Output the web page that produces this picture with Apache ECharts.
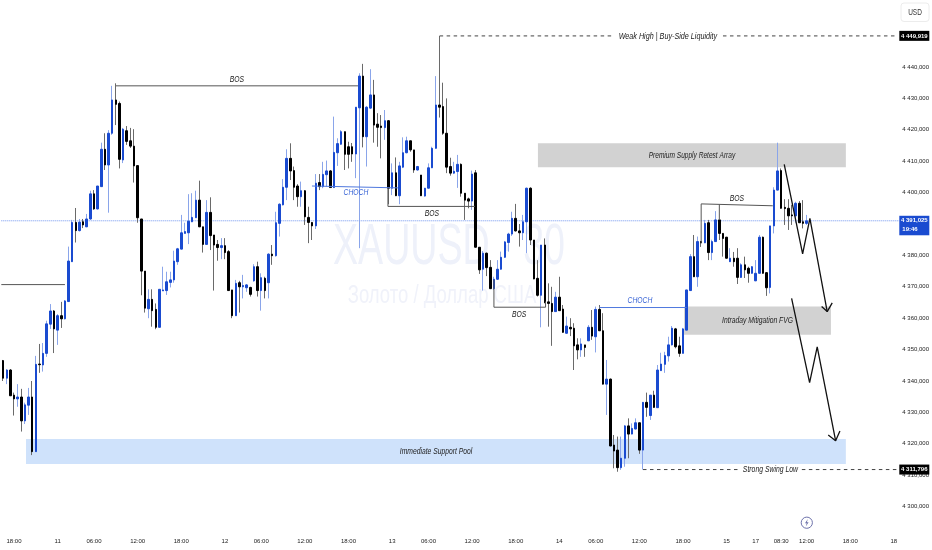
<!DOCTYPE html>
<html>
<head>
<meta charset="utf-8">
<style>html,body{margin:0;padding:0;background:#fff}#chart{width:932px;height:550px}</style>
<script src="https://cdn.jsdelivr.net/npm/echarts@6/dist/echarts.min.js"></script>
</head>
<body>
<div id="chart"></div>
<script>
const SLOT_COUNT = 247;
const tickIndexes = [3,15,25,37,49,61,71,83,95,107,117,129,141,153,163,175,187,199,207,214,221,233,245];
const tickLabels = ['18:00','11','06:00','12:00','18:00','12','06:00','12:00','18:00','13','06:00','12:00','18:00','14','06:00','12:00','18:00','15','17','08:30','12:00','18:00','18'];
const directions = 'DUDDUDUUDU'+'DUUUDUDUUU'+'DUDUUDUUDU'+'UDDUDDDDDD'+'UDDUUUUUUU'+'UUUUDDUDDD'+'UDDDUDUUDU'+'DUDUDUUUUD'+'DDUDDDUDUU'+'DUUUDDDUUD'+'UUDDDUDUDU'+'UUDDUDUUUU'+'DDDDUUDDDU'+'DDUDDUUUUU'+'UDDUUDDDUD'+'DDUDDUDDDU'+'DUDUDDUDDD'+'UUDUUDUDUD'+'UUUUUDDUUU'+'DUDUDUUDDD'+'UDDUDDUUUD'+'DUUUDDDDUD'+'DU';
const bodyHigh = [
4346.5,4343.5,4343.5,4335.5,4334.9,4334.9,4332.4,4334.9,4334.9,4345.3,
4345.4,4348.8,4358.2,4362.3,4362.3,4360.8,4360.8,4365.5,4378.2,4390.5,
4390.5,4390.6,4390.7,4391.6,4399.6,4399.6,4402.1,4413.8,4413.8,4418.9,
4429.5,4429.5,4428.4,4420.2,4419.7,4416.5,4414.8,4408.6,4391.6,4375.0,
4366.0,4366.0,4362.8,4369.2,4369.0,4371.6,4372.2,4378.2,4382.1,4387.2,
4387.6,4390.9,4392.1,4397.6,4397.6,4389.1,4393.7,4393.7,4386.5,4383.5,
4383.1,4383.1,4381.2,4369.0,4371.1,4371.3,4370.4,4370.6,4369.8,4376.4,
4376.4,4372.9,4372.7,4380.4,4380.4,4390.4,4396.3,4401.7,4410.9,4410.9,
4407.0,4402.1,4400.6,4400.6,4392.1,4390.5,4403.0,4403.2,4405.8,4406.9,
4406.9,4412.8,4415.6,4419.4,4419.4,4414.6,4414.6,4427.2,4437.1,4437.1,
4427.2,4431.1,4431.1,4421.8,4421.2,4422.9,4422.9,4406.3,4406.3,4408.5,
4412.7,4416.5,4416.5,4413.6,4408.3,4405.6,4401.4,4407.9,4414.1,4427.9,
4427.9,4427.4,4418.9,4408.3,4406.8,4409.0,4409.0,4399.8,4398.0,4405.9,
4406.3,4382.6,4380.7,4380.7,4376.2,4372.4,4375.6,4379.4,4384.3,4386.8,
4391.8,4391.8,4387.8,4390.7,4401.4,4401.4,4384.9,4372.7,4383.3,4383.3,
4365.2,4364.7,4366.7,4366.7,4362.9,4357.5,4357.1,4356.8,4351.5,4351.8,
4351.5,4357.1,4357.1,4362.8,4362.8,4356.0,4340.6,4340.6,4319.6,4318.0,
4315.4,4325.7,4325.7,4324.9,4326.7,4326.7,4333.2,4333.2,4335.5,4335.5,
4343.5,4345.4,4348.1,4351.5,4356.8,4356.6,4351.2,4356.6,4369.0,4379.6,
4379.6,4384.4,4384.4,4390.2,4390.4,4384.4,4391.3,4391.3,4387.0,4385.8,
4379.1,4379.1,4379.1,4377.0,4377.0,4375.9,4376.4,4374.3,4385.8,4385.8,
4374.5,4389.4,4400.8,4406.9,4407.0,4395.3,4395.0,4392.9,4396.6,4396.6,
4390.7,4391.0];
const bodyLow = [
4340.9,4340.9,4335.3,4334.3,4334.3,4327.3,4327.3,4332.3,4317.5,4317.5,
4345.2,4345.1,4348.8,4358.1,4356.6,4356.2,4359.8,4359.8,4365.3,4378.0,
4387.9,4387.9,4389.7,4389.1,4391.6,4394.8,4394.8,4401.9,4408.8,4408.8,
4418.9,4428.1,4410.6,4410.4,4416.3,4414.8,4408.5,4392.0,4375.0,4363.2,
4363.0,4362.4,4357.1,4357.1,4368.7,4368.8,4371.4,4372.2,4378.0,4382.0,
4387.0,4387.2,4390.7,4392.0,4389.1,4383.5,4383.5,4386.3,4383.3,4382.5,
4382.5,4380.9,4368.8,4360.8,4360.8,4370.0,4370.0,4369.7,4367.6,4371.9,
4368.8,4368.8,4368.8,4371.3,4379.9,4379.9,4390.2,4396.1,4401.7,4406.9,
4401.7,4398.7,4398.7,4392.3,4390.5,4389.4,4389.4,4401.9,4401.9,4405.7,
4401.6,4401.6,4412.7,4415.4,4412.2,4412.2,4412.3,4412.3,4427.0,4417.8,
4417.8,4426.9,4421.5,4420.8,4420.7,4420.7,4401.4,4401.4,4399.0,4399.0,
4408.1,4412.7,4413.6,4407.2,4407.2,4399.0,4398.9,4401.4,4407.9,4414.1,
4427.2,4418.9,4408.1,4406.2,4406.2,4406.7,4399.8,4397.6,4397.3,4397.3,
4382.6,4375.4,4375.6,4376.1,4369.4,4369.4,4372.4,4375.6,4379.4,4384.1,
4386.8,4387.8,4387.2,4387.2,4390.7,4384.9,4372.5,4367.3,4367.3,4364.9,
4364.7,4362.1,4362.1,4362.4,4355.5,4355.2,4356.6,4351.2,4349.9,4349.9,
4350.7,4352.8,4354.3,4354.1,4356.0,4339.0,4339.0,4319.3,4317.7,4312.4,
4312.4,4315.4,4323.1,4323.1,4324.7,4318.0,4318.0,4331.6,4329.0,4331.6,
4331.5,4343.3,4345.3,4348.0,4351.5,4350.9,4348.8,4348.8,4356.2,4368.8,
4373.2,4373.2,4384.0,4384.0,4380.9,4380.9,4384.4,4387.0,4385.4,4379.1,
4378.0,4378.0,4373.0,4373.0,4375.4,4374.3,4374.3,4371.9,4374.3,4374.3,
4369.7,4369.8,4389.4,4400.8,4395.0,4394.9,4392.6,4392.6,4392.6,4390.4,
4390.2,4390.2];
const wickHigh = [
4346.7,4343.8,4343.8,4336.3,4339.0,4337.5,4333.1,4337.8,4340.0,4348.0,
4351.8,4352.1,4359.2,4364.5,4362.6,4361.3,4365.2,4365.8,4382.8,4391.3,
4395.1,4391.6,4391.6,4393.2,4400.6,4400.8,4402.1,4415.9,4418.9,4419.9,
4434.0,4434.8,4429.0,4420.6,4421.2,4420.6,4420.2,4408.6,4391.6,4375.0,
4369.2,4369.2,4364.7,4369.2,4376.4,4374.8,4374.8,4381.5,4382.4,4392.9,
4390.4,4399.5,4399.8,4400.6,4403.8,4389.1,4397.6,4398.5,4386.5,4384.9,
4385.5,4385.5,4381.7,4369.0,4372.2,4371.9,4373.8,4370.9,4370.0,4377.2,
4378.0,4374.3,4373.2,4380.7,4383.3,4393.9,4396.6,4404.3,4413.8,4415.7,
4408.3,4402.7,4403.5,4400.8,4395.5,4390.5,4405.9,4405.9,4409.8,4410.2,
4407.2,4424.2,4417.3,4419.9,4419.4,4416.2,4415.8,4427.2,4438.0,4441.0,
4427.6,4439.3,4435.9,4425.3,4424.7,4426.3,4423.1,4409.3,4411.2,4409.8,
4417.6,4417.8,4416.5,4413.6,4408.5,4405.6,4401.5,4409.3,4414.6,4437.1,
4449.9,4435.0,4430.0,4411.1,4409.8,4412.0,4409.3,4399.8,4398.4,4407.0,
4407.2,4382.6,4381.4,4380.9,4378.5,4373.2,4378.5,4381.2,4384.6,4387.2,
4393.9,4396.4,4390.0,4392.9,4401.6,4401.7,4384.9,4378.5,4383.3,4385.4,
4371.1,4370.0,4368.4,4373.2,4364.2,4360.5,4360.0,4358.4,4353.6,4353.6,
4351.5,4357.8,4362.6,4363.7,4364.2,4361.6,4346.7,4340.8,4322.8,4322.3,
4322.3,4326.0,4328.1,4326.5,4328.1,4326.7,4333.3,4336.3,4335.5,4336.9,
4345.1,4349.0,4349.3,4354.1,4357.5,4356.9,4354.1,4356.9,4369.0,4380.4,
4386.5,4386.0,4384.6,4391.3,4391.3,4385.0,4394.1,4391.3,4387.0,4385.9,
4382.3,4381.1,4382.3,4377.5,4379.6,4376.4,4376.6,4378.5,4386.5,4386.0,
4374.7,4389.4,4401.7,4415.9,4407.7,4397.9,4397.9,4396.1,4397.1,4397.3,
4397.6,4392.9];
const wickLow = [
4340.0,4339.0,4335.2,4329.0,4331.8,4323.9,4326.3,4329.2,4316.4,4317.4,
4342.6,4343.0,4347.7,4356.6,4348.9,4351.5,4356.9,4359.6,4365.2,4377.9,
4384.1,4387.6,4388.7,4389.0,4391.3,4394.5,4394.6,4401.8,4407.2,4393.6,
4418.4,4421.5,4407.7,4409.4,4415.2,4414.2,4403.2,4390.4,4367.3,4361.8,
4360.0,4357.3,4356.5,4357.1,4368.7,4367.4,4369.8,4371.3,4377.0,4381.9,
4387.0,4383.6,4390.6,4391.9,4389.0,4380.9,4383.5,4381.7,4368.8,4378.3,
4378.8,4378.8,4368.7,4360.0,4360.7,4361.8,4366.3,4368.4,4366.9,4371.6,
4366.9,4362.4,4366.3,4366.3,4377.0,4379.6,4386.0,4395.9,4397.6,4404.0,
4397.6,4395.5,4395.5,4389.7,4383.9,4384.9,4388.4,4400.8,4401.4,4401.9,
4401.5,4401.5,4408.5,4415.2,4407.2,4407.7,4409.8,4404.6,4382.3,4414.4,
4408.3,4426.6,4415.9,4414.6,4410.9,4416.8,4396.3,4399.2,4398.9,4396.3,
4407.8,4412.5,4413.0,4406.3,4407.0,4398.9,4398.7,4401.3,4407.8,4414.0,
4423.9,4418.4,4406.2,4405.4,4405.9,4401.5,4398.7,4391.3,4395.0,4394.5,
4382.5,4374.1,4368.8,4373.4,4369.3,4369.0,4372.2,4375.4,4379.2,4381.2,
4386.2,4387.6,4382.8,4384.9,4380.7,4383.3,4372.4,4366.9,4357.1,4364.8,
4357.3,4351.2,4362.0,4362.3,4355.4,4355.0,4354.3,4343.5,4346.9,4347.7,
4347.7,4352.7,4353.1,4349.1,4355.9,4338.9,4329.2,4319.2,4312.2,4311.1,
4311.7,4312.7,4315.4,4323.0,4324.6,4316.8,4311.8,4328.6,4327.6,4331.5,
4331.4,4343.2,4342.6,4346.2,4351.3,4350.4,4347.7,4348.8,4356.1,4368.7,
4373.1,4370.0,4382.7,4383.9,4378.5,4378.5,4384.3,4384.9,4379.6,4379.0,
4377.9,4376.4,4370.9,4372.8,4372.8,4371.3,4374.2,4371.8,4374.2,4374.2,
4367.1,4367.9,4387.0,4400.7,4394.9,4389.7,4388.1,4389.7,4390.4,4390.3,
4388.6,4389.7];

const lastPrice = 4391.025;
const weakHigh = 4449.919;
const swingLow = 4311.796;

// zones: [fromBar, topPrice, toBar, bottomPrice]
const supportZone = [6.29, 4321.5, 231.8, 4313.6];
const supplyZone = [147.1, 4415.7, 231.8, 4408.1];
const fvgZone = [187.3, 4363.7, 227.7, 4354.7];

// drawn levels: [bar, price] points
const leftLevel = [[-0.5,4370.7],[17.0,4370.7]];
const bos1 = [[31.05,4434.0],[97.6,4434.0]];
const choch1 = [[84.95,4402.1],[108.6,4401.5]];
const bos2 = [[105.85,4401.5],[105.85,4395.6],[129.8,4395.6]];
const bos3 = [[135.0,4372.2],[135.0,4363.5],[149.2,4363.5],[149.2,4365.3]];
const choch2 = [[164.0,4363.4],[188.0,4363.4]];
const bos4 = [[192.0,4383.9],[192.0,4396.4],[211.7,4395.8]];
const bos4Tick = [[197.0,4396.2],[197.0,4391.3]];
const weakHighLeft = [[120.07,4449.9],[168.0,4449.9]];
const weakHighRight = [[198.0,4449.9],[245.8,4449.9]];
const swingLowLeft = [[176.0,4311.8],[202.1,4311.8]];
const swingLowRight = [[219.7,4311.8],[245.8,4311.8]];
const priceLine = [[-0.5,lastPrice],[246.5,lastPrice]];
const arrowOne = [[214.85,4409.0],[219.91,4380.45],[221.91,4391.8],[226.67,4362.1]];
const arrowOneHead = [[225.13,4363.7],[226.67,4362.1],[228.05,4364.9]];
const arrowTwo = [[216.88,4366.3],[221.83,4339.5],[223.92,4350.9],[228.98,4321.0]];
const arrowTwoHead = [[226.95,4322.8],[228.98,4321.0],[230.17,4324.1]];

const noteTexts = ['Weak High | Buy-Side Liquidity','BOS','CHOCH','BOS','BOS','CHOCH','BOS','Premium Supply Retest Array','Intraday Mitigation FVG','Immediate Support Pool','Strong Swing Low'];
const noteBars = [182.86,64.3,97.05,117.95,141.9,175.16,201.8,189.46,207.5,119.06,211.05];
const notePrices = [4449.6,4435.9,4399.9,4393.5,4361.3,4365.5,4398.0,4411.7,4359.2,4317.4,4311.7];
const noteScale = [0.8,0.75,0.75,0.75,0.75,0.75,0.75,0.73,0.75,0.75,0.76];
const noteColors = ['#222','#222','#3b66d6','#222','#222','#3b66d6','#222','#222','#222','#222','#222'];

const UP = '#1a4bd0', DOWN = '#000000';
const WICK_UP = '#8aa5ea', WICK_DOWN = '#6a6a6a';
const SANS = '"Liberation Sans",sans-serif';

const categories = Array.from({length: SLOT_COUNT}, (_, i) => {
  const k = tickIndexes.indexOf(i);
  return k >= 0 ? tickLabels[k] : '';
});
const isUp = i => directions[i] === 'U';
const wickData = bodyHigh.map((_, i) => isUp(i)
  ? [bodyLow[i], bodyHigh[i], wickLow[i], wickHigh[i]]
  : [bodyHigh[i], bodyLow[i], wickLow[i], wickHigh[i]]);
const bodyData = bodyHigh.map((_, i) => isUp(i)
  ? [bodyLow[i], bodyHigh[i], bodyLow[i], bodyHigh[i]]
  : [bodyHigh[i], bodyLow[i], bodyLow[i], bodyHigh[i]]);

const fmtPrice = v => {
  const s = v.toFixed(3).replace('.', ',');
  return s[0] + ' ' + s.slice(1);
};

function lineSeries(points, color, width, type, z) {
  return {
    type: 'line', xAxisIndex: 1, yAxisIndex: 0, data: points, symbol: 'none', silent: true,
    clip: false, z, lineStyle: {color, width, type: type || 'solid'}, animation: false
  };
}
const zoneColors = ['#cfe2fb', '#d2d2d2', '#d2d2d2'];
const priceTags = [
  {price: weakHigh, bg: '#000', lines: [fmtPrice(weakHigh)]},
  {price: swingLow, bg: '#000', lines: [fmtPrice(swingLow)]},
  {price: lastPrice, bg: '#1a4bd0', lines: [fmtPrice(lastPrice), '19:46']}
];

const option = {
  animation: false,
  backgroundColor: '#fff',
  grid: {left: 1.3, width: 898, top: 4.2, bottom: 12, containLabel: false, outerBoundsMode: 'none'},
  xAxis: [
    {type: 'category', data: categories, boundaryGap: true,
     axisLine: {show: false}, axisTick: {show: false}, splitLine: {show: false},
     axisLabel: {interval: 0, margin: 0, color: '#222', fontSize: 6, fontFamily: SANS, hideOverlap: false}},
    {type: 'value', min: -0.5, max: 246.5, show: false, splitLine: {show: false}}
  ],
  yAxis: [{
    type: 'value', position: 'right', min: 4290, max: 4460, interval: 10, scale: true,
    axisLine: {show: false}, axisTick: {show: false}, splitLine: {show: false},
    axisLabel: {margin: 3, color: '#222', fontSize: 6, fontFamily: SANS,
      formatter: v => (v <= 4290 || v >= 4450) ? '' : fmtPrice(v)}
  }],
  graphic: [
    {type: 'text', silent: true, z: 0, x: 449, y: 248, scaleX: 0.66,
     style: {text: 'XAUUSD · 30', fill: '#eef1fa', font: '57px "Liberation Sans"', align: 'center', verticalAlign: 'middle'}},
    {type: 'text', silent: true, z: 0, x: 442, y: 296, scaleX: 0.74,
     style: {text: 'Золото / Доллар США', fill: '#f0f2fa', font: '25px "Liberation Sans"', align: 'center', verticalAlign: 'middle'}},
    {type: 'rect', silent: true, z: 8, shape: {x: 901, y: 3, width: 28, height: 18.5, r: 3},
     style: {fill: '#fff', stroke: '#ececec', lineWidth: 1}},
    {type: 'text', silent: true, z: 9, x: 915, y: 12.5, scaleX: 0.72,
     style: {text: 'USD', fill: '#333', font: '9px "Liberation Sans"', align: 'center', verticalAlign: 'middle'}},
    {type: 'circle', silent: true, z: 8, shape: {cx: 806.8, cy: 522.7, r: 5.6},
     style: {fill: '#fff', stroke: '#6d72ab', lineWidth: 1}},
    {type: 'polygon', silent: true, z: 9, shape: {points: [[807.8,519],[805,523.2],[806.7,523.2],[805.8,526.4],[808.6,522.2],[806.9,522.2]]},
     style: {fill: '#6d72ab'}}
  ],
  series: [
    {type: 'custom', xAxisIndex: 1, yAxisIndex: 0, z: 1, silent: true,
     data: [supportZone, supplyZone, fvgZone],
     renderItem: (params, api) => {
       const a = api.coord([api.value(0), api.value(1)]);
       const b = api.coord([api.value(2), api.value(3)]);
       return {type: 'rect', shape: {x: a[0], y: a[1], width: b[0]-a[0], height: b[1]-a[1]},
               style: {fill: zoneColors[params.dataIndex]}};
     }},
    lineSeries(priceLine, '#6f93f0', 1, 'dotted', 1),
    {type: 'candlestick', xAxisIndex: 0, yAxisIndex: 0, z: 2, silent: true, barWidth: 1, data: wickData,
     itemStyle: {color: WICK_UP, color0: WICK_DOWN, borderColor: WICK_UP, borderColor0: WICK_DOWN, borderWidth: 1}},
    {type: 'candlestick', xAxisIndex: 0, yAxisIndex: 0, z: 3, silent: true, barWidth: 2, data: bodyData,
     itemStyle: {color: UP, color0: DOWN, borderColor: UP, borderColor0: DOWN, borderWidth: 1}},
    lineSeries(leftLevel, '#555', 1, 'solid', 4),
    lineSeries(bos1, '#555', 1, 'solid', 4),
    lineSeries(choch1, '#4f78de', 1, 'solid', 4),
    lineSeries(bos2, '#555', 1, 'solid', 4),
    lineSeries(bos3, '#555', 1, 'solid', 4),
    lineSeries(choch2, '#4f78de', 1, 'solid', 4),
    lineSeries(bos4, '#555', 1, 'solid', 4),
    lineSeries(bos4Tick, '#555', 1, 'solid', 4),
    lineSeries(weakHighLeft, '#444', 1, [3.5,3.5], 4),
    lineSeries(weakHighRight, '#444', 1, [3.5,3.5], 4),
    lineSeries(swingLowLeft, '#444', 1, [3.5,3.5], 4),
    lineSeries(swingLowRight, '#444', 1, [3.5,3.5], 4),
    lineSeries(arrowOne, '#111', 1.3, 'solid', 5),
    lineSeries(arrowOneHead, '#111', 1.3, 'solid', 5),
    lineSeries(arrowTwo, '#111', 1.3, 'solid', 5),
    lineSeries(arrowTwoHead, '#111', 1.3, 'solid', 5),
    {type: 'custom', xAxisIndex: 1, yAxisIndex: 0, z: 6, silent: true,
     data: noteBars.map((b, i) => [b, notePrices[i]]),
     renderItem: (params, api) => {
       const p = api.coord([api.value(0), api.value(1)]);
       const i = params.dataIndex;
       return {type: 'text', x: p[0], y: p[1], scaleX: noteScale[i],
         style: {text: noteTexts[i], fill: noteColors[i], font: 'italic 9px "Liberation Sans"', align: 'center', verticalAlign: 'middle'}};
     }},
    {type: 'custom', xAxisIndex: 1, yAxisIndex: 0, z: 7, silent: true,
     data: priceTags.map(t => [246.5, t.price]),
     renderItem: (params, api) => {
       const p = api.coord([api.value(0), api.value(1)]);
       const t = priceTags[params.dataIndex];
       const two = t.lines.length > 1;
       const children = [{type: 'rect', shape: {x: p[0], y: p[1]-5, width: 30, height: two ? 19.5 : 10}, style: {fill: t.bg}}];
       t.lines.forEach((s, k) => children.push({type: 'text', x: p[0] + (k === 0 ? 15 : 3), y: p[1] + k*9,
         style: {text: s, fill: '#fff', font: 'bold 6px ' + SANS, align: k === 0 ? 'center' : 'left', verticalAlign: 'middle'}}));
       return {type: 'group', children};
     }}
  ]
};
const chart = echarts.init(document.getElementById('chart'), null, {renderer: 'canvas'});
chart.setOption(option);
</script>
</body>
</html>
